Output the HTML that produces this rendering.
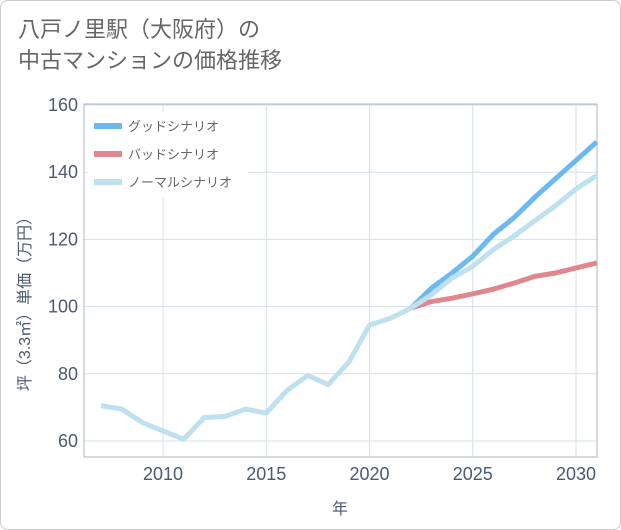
<!DOCTYPE html>
<html><head><meta charset="utf-8"><style>
body{margin:0;background:#fff;}
#wrap{position:relative;width:621px;height:530px;font-family:"Liberation Sans","Noto Sans CJK JP",sans-serif;}
#frame{position:absolute;left:0;top:0;width:619px;height:528px;border:1px solid #ccc;border-radius:8px;}
#title{position:absolute;left:18px;top:14px;font-size:22px;line-height:31px;color:#666;}
</style></head><body>
<div id="wrap">
<div id="frame"></div>
<div id="title">八戸ノ里駅（大阪府）の<br>中古マンションの価格推移</div>
<svg id="svg" width="621" height="530" style="position:absolute;left:0;top:0"></svg>
</div>
<script>
const years=[2007,2008,2009,2010,2011,2012,2013,2014,2015,2016,2017,2018,2019,2020,2021,2022,2023,2024,2025,2026,2027,2028,2029,2030,2031];
const normal=[70.5,69.5,65.5,63,60.5,67,67.3,69.5,68.3,75,79.5,76.8,83.5,94.5,96.5,99.5,103.5,108.5,112,117,121,125.5,130,135,139];
const goodYears=[2022,2023,2024,2025,2026,2027,2028,2029,2030,2031];
const good=[99.5,105.5,110,115,121.5,126.5,132.5,138,143.5,149];
const bad=[99.5,101.5,102.5,103.8,105.2,107,109,110,111.5,113];
const xTicks=[2010,2015,2020,2025,2030];
const yTicks=[60,80,100,120,140,160];
const L=84,R=597,T=104,B=457;
const x=v=>163+(v-2010)*(576-163)/20;
const y=v=>441-(v-60)*(441-105)/100;
const svg=document.getElementById('svg');const NS='http://www.w3.org/2000/svg';
function mk(t,a,p){const e=document.createElementNS(NS,t);for(const k in a)e.setAttribute(k,a[k]);(p||svg).appendChild(e);return e;}
let e;
xTicks.forEach(v=>{e=mk('line',{x1:x(v),x2:x(v),y1:T,y2:B,stroke:'#d5e0ea','stroke-width':1});

e=mk('text',{x:x(v),y:B+23,'text-anchor':'middle','font-size':18,fill:'#4a5a70'});e.textContent=v;
});
yTicks.forEach(v=>{e=mk('line',{x1:L,x2:R,y1:y(v),y2:y(v),stroke:'#d5e0ea','stroke-width':1});

e=mk('text',{x:L-6,y:y(v)+6,'text-anchor':'end','font-size':18,fill:'#4a5a70'});e.textContent=v;
});
e=mk('rect',{x:L,y:T,width:R-L,height:B-T,fill:'none',stroke:'#a8b4c0','stroke-width':1});

function line(xs,ys,c,n){const d=xs.map((v,i)=>(i?'L':'M')+x(v)+','+y(ys[i])).join('');
const p=mk('path',{d:d,fill:'none',stroke:c,'stroke-width':5,'stroke-linejoin':'round'});
}
line(goodYears,bad,'#e0868e','bad-scenario-line');
line(goodYears,good,'#6cb8f0','good-scenario-line');
line(years,normal,'#bfe0ef','normal-scenario-line');
e=mk('rect',{x:88,y:112,width:160,height:86,fill:'#fff'});

[['グッドシナリオ','#6cb8f0'],['バッドシナリオ','#e0868e'],['ノーマルシナリオ','#bfe0ef']].forEach((l,i)=>{
const yy=126+i*28;
e=mk('line',{x1:94,x2:122,y1:yy,y2:yy,stroke:l[1],'stroke-width':6});

e=mk('text',{x:128,y:yy+5,'font-size':13,fill:'#666'});e.textContent=l[0];
});
e=mk('text',{x:340,y:514,'text-anchor':'middle','font-size':16,fill:'#4a5a70'});e.textContent='年';

e=mk('text',{x:0,y:0,'text-anchor':'middle','font-size':16,fill:'#4a5a70',transform:'translate(30,300) rotate(-90)'});e.textContent='坪（3.3㎡）単価（万円）';

</script>
</body></html>
